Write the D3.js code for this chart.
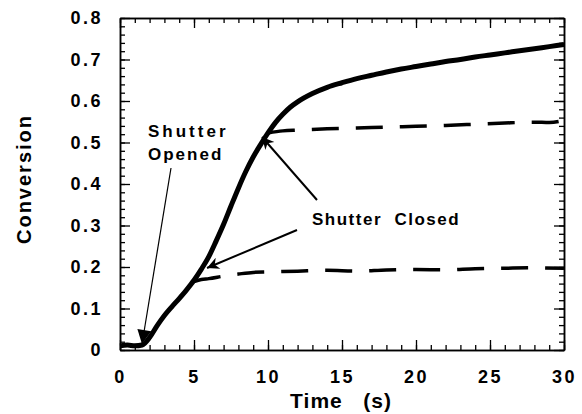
<!DOCTYPE html>
<html>
<head>
<meta charset="utf-8">
<script src="https://cdn.jsdelivr.net/npm/d3@7"></script>
<style>
	body { margin: 0; background: #fff; }
	svg text { font-family: "Liberation Sans", Arial, sans-serif; font-weight: bold; fill: #000; }
</style>
</head>
<body>
<svg id="chart" width="582" height="414"></svg>
<script>
(function() {

	// main curve (continuous irradiation)
	const mainTime = [0, 0.5, 1, 1.5, 2, 2.5, 3, 3.5, 4, 4.5, 5, 5.5, 6, 6.5, 7, 7.5, 8, 8.5, 9, 9.5, 10,
		10.5, 11, 11.5, 12, 13, 14, 15, 16, 17, 18, 19, 20, 21, 22, 23, 24, 25, 26, 27, 28, 29, 30];
	const mainConv = [0.01, 0.012, 0.01, 0.012, 0.03, 0.058, 0.083, 0.104, 0.124, 0.145, 0.168, 0.195, 0.225, 0.263, 0.303, 0.347, 0.39, 0.43, 0.465, 0.495, 0.523,
		0.548, 0.568, 0.585, 0.598, 0.618, 0.633, 0.644, 0.654, 0.662, 0.67, 0.677, 0.683, 0.689, 0.695, 0.70, 0.706, 0.711, 0.716, 0.721, 0.726, 0.731, 0.736];

	// shutter closed at ~5 s
	const dark1Time = [5, 5.5, 6, 7, 8, 9, 10, 12, 14, 16, 18, 20, 22, 24, 26, 28, 30];
	const dark1Conv = [0.165, 0.17, 0.172, 0.178, 0.183, 0.187, 0.188, 0.19, 0.192, 0.19, 0.193, 0.194, 0.193, 0.196, 0.197, 0.198, 0.197];

	// shutter closed at ~10 s
	const dark2Time = [10, 11, 12, 14, 16, 18, 20, 22, 24, 26, 28, 29, 30];
	const dark2Conv = [0.523, 0.528, 0.53, 0.533, 0.535, 0.537, 0.539, 0.541, 0.544, 0.547, 0.549, 0.548, 0.553];

	const xTicks = [0, 5, 10, 15, 20, 25, 30];
	const yTicks = [0, 0.1, 0.2, 0.3, 0.4, 0.5, 0.6, 0.7, 0.8];

	const svg = d3.select("#chart");
	const left = 120, right = 564, top = 18, bottom = 350;

	const x = d3.scaleLinear().domain([0, 30]).range([left, right]);
	const y = d3.scaleLinear().domain([0, 0.8]).range([bottom, top]);

	const xMinor = d3.range(0, 31, 1);
	const yMinor = d3.range(0, 0.801, 0.02);

	function styleAxis(g) {
		g.select(".domain").attr("stroke", "#000").attr("stroke-width", 1.5);
		g.selectAll(".tick line").attr("stroke", "#000").attr("stroke-width", 1.3);
		g.selectAll(".tick text").style("font-size", "18px").style("letter-spacing", "2.5px");
	}

	// minor ticks on all four sides
	svg.append("g").attr("transform", "translate(0," + bottom + ")")
		.call(d3.axisBottom(x).tickValues(xMinor).tickSize(-5).tickSizeOuter(0).tickFormat(""))
		.call(styleAxis);
	svg.append("g").attr("transform", "translate(0," + top + ")")
		.call(d3.axisTop(x).tickValues(xMinor).tickSize(-5).tickSizeOuter(0).tickFormat(""))
		.call(styleAxis);
	svg.append("g").attr("transform", "translate(" + left + ",0)")
		.call(d3.axisLeft(y).tickValues(yMinor).tickSize(-5).tickSizeOuter(0).tickFormat(""))
		.call(styleAxis);
	svg.append("g").attr("transform", "translate(" + right + ",0)")
		.call(d3.axisRight(y).tickValues(yMinor).tickSize(-5).tickSizeOuter(0).tickFormat(""))
		.call(styleAxis);

	// major ticks with labels
	svg.append("g").attr("transform", "translate(0," + bottom + ")")
		.call(d3.axisBottom(x).tickValues(xTicks).tickSize(-10).tickSizeOuter(0).tickPadding(20).tickFormat(d3.format("d")))
		.call(styleAxis);
	svg.append("g").attr("transform", "translate(0," + top + ")")
		.call(d3.axisTop(x).tickValues(xTicks).tickSize(-10).tickSizeOuter(0).tickFormat(""))
		.call(styleAxis);
	svg.append("g").attr("transform", "translate(" + left + ",0)")
		.call(d3.axisLeft(y).tickValues(yTicks).tickSize(-10).tickSizeOuter(0).tickPadding(17)
			.tickFormat(d => d === 0 ? "0" : d3.format(".1f")(d)))
		.call(styleAxis);
	svg.append("g").attr("transform", "translate(" + right + ",0)")
		.call(d3.axisRight(y).tickValues(yTicks).tickSize(-10).tickSizeOuter(0).tickFormat(""))
		.call(styleAxis);

	const line = d3.line().x(d => x(d[0])).y(d => y(d[1])).curve(d3.curveMonotoneX);

	svg.append("path")
		.datum(d3.zip(dark1Time, dark1Conv))
		.attr("d", line)
		.attr("fill", "none").attr("stroke", "#000").attr("stroke-width", 3.5)
		.attr("stroke-dasharray", "27,17");

	svg.append("path")
		.datum(d3.zip(dark2Time, dark2Conv))
		.attr("d", line)
		.attr("fill", "none").attr("stroke", "#000").attr("stroke-width", 3.5)
		.attr("stroke-dasharray", "27,17");

	svg.append("path")
		.datum(d3.zip(mainTime, mainConv))
		.attr("d", line)
		.attr("fill", "none").attr("stroke", "#000").attr("stroke-width", 5)
		.attr("stroke-linejoin", "round");

	// arrows
	const defs = svg.append("defs");
	defs.append("marker")
		.attr("id", "head").attr("viewBox", "0 0 10 10")
		.attr("refX", 10).attr("refY", 5)
		.attr("markerWidth", 14).attr("markerHeight", 12)
		.attr("markerUnits", "userSpaceOnUse")
		.attr("orient", "auto")
		.append("path").attr("d", "M0,0 L10,5 L0,10 L3,5 Z").attr("fill", "#000");
	defs.append("marker")
		.attr("id", "bighead").attr("viewBox", "0 0 10 10")
		.attr("refX", 10).attr("refY", 5)
		.attr("markerWidth", 16).attr("markerHeight", 14)
		.attr("markerUnits", "userSpaceOnUse")
		.attr("orient", "auto")
		.append("path").attr("d", "M0,0 L10,5 L0,10 Z").attr("fill", "#000");

	const arrows = [
		{ from: [171, 168], to: [142, 344], w: 1.2, head: "bighead" },
		{ from: [317, 200], to: [262, 137], w: 2, head: "head" },
		{ from: [297, 230], to: [207, 268], w: 2, head: "head" }
	];
	arrows.forEach(a => {
		svg.append("line")
			.attr("x1", a.from[0]).attr("y1", a.from[1])
			.attr("x2", a.to[0]).attr("y2", a.to[1])
			.attr("stroke", "#000").attr("stroke-width", a.w)
			.attr("marker-end", "url(#" + a.head + ")");
	});

	// annotations
	svg.append("text").attr("x", 148).attr("y", 137).style("font-size", "17px").style("letter-spacing", "3px").text("Shutter");
	svg.append("text").attr("x", 148).attr("y", 160).style("font-size", "17px").style("letter-spacing", "2px").text("Opened");
	svg.append("text").attr("x", 312).attr("y", 225).style("font-size", "17px").style("letter-spacing", "1.5px")
		.attr("xml:space", "preserve").text("Shutter  Closed");

	// axis titles
	svg.append("text").attr("x", 341).attr("y", 408).attr("text-anchor", "middle")
		.style("font-size", "21px").style("letter-spacing", "1px")
		.attr("xml:space", "preserve").text("Time   (s)");
	svg.append("text").attr("transform", "translate(31,179) rotate(-90)").attr("text-anchor", "middle")
		.style("font-size", "20px").style("letter-spacing", "2px").text("Conversion");
})();
</script>
</body>
</html>
